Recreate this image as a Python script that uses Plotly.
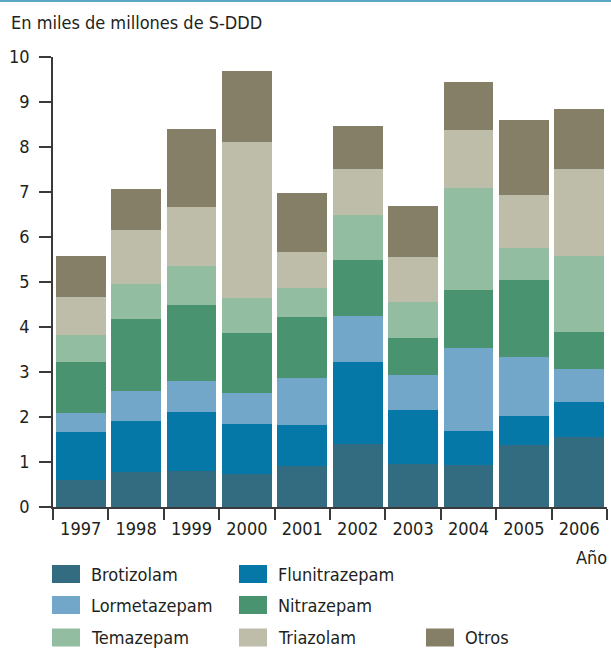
import plotly.graph_objects as go

# Consumption of hypnotic benzodiazepines, thousands of millions of S-DDD
years = ["1997", "1998", "1999", "2000", "2001", "2002", "2003", "2004", "2005", "2006"]

brotizolam    = [0.59, 0.77, 0.79, 0.73, 0.91, 1.41, 0.95, 0.93, 1.37, 1.55]
flunitrazepam = [1.07, 1.14, 1.33, 1.11, 0.91, 1.81, 1.21, 0.75, 0.65, 0.78]
lormetazepam  = [0.43, 0.66, 0.69, 0.69, 1.04, 1.02, 0.78, 1.85, 1.31, 0.73]
nitrazepam    = [1.13, 1.61, 1.67, 1.34, 1.36, 1.25, 0.82, 1.29, 1.71, 0.82]
temazepam     = [0.60, 0.78, 0.87, 0.78, 0.64, 1.00, 0.80, 2.27, 0.71, 1.69]
triazolam     = [0.85, 1.20, 1.31, 3.47, 0.80, 1.02, 1.00, 1.29, 1.18, 1.94]
otros         = [0.91, 0.91, 1.74, 1.58, 1.32, 0.96, 1.13, 1.07, 1.67, 1.34]

series_names = ["Brotizolam", "Flunitrazepam", "Lormetazepam", "Nitrazepam",
                "Temazepam", "Triazolam", "Otros"]
series_values = [brotizolam, flunitrazepam, lormetazepam, nitrazepam,
                 temazepam, triazolam, otros]
series_colors = ["#336b81", "#0578a7", "#73a7ca", "#4a9370",
                 "#93bda0", "#bebdaa", "#847f66"]

y_ticks = [0, 1, 2, 3, 4, 5, 6, 7, 8, 9, 10]

FONT = "DejaVu Sans Condensed, Liberation Sans Narrow, sans-serif"
FS = 18
TEXT = "#231f20"
AXIS = "#3a3a3a"

W, H = 611, 650
ML, MR, MT, MB = 53, 4, 57, 143
PW, PH = W - ML - MR, H - MT - MB


def px_x(px):
    return (px - ML) / PW


def px_y(py):
    return 1 - (py - MT) / PH


fig = go.Figure()
for name, vals, col in zip(series_names, series_values, series_colors):
    fig.add_trace(go.Bar(
        x=years, y=vals, name=name,
        marker=dict(color=col, line=dict(width=0)),
        showlegend=False,
    ))

# Legend drawn as swatches + labels in a 3-column grid
legend_slots = [(0, 0), (1, 0), (0, 1), (1, 1), (0, 2), (1, 2), (2, 2)]
col_swatch_x = [52, 239, 426]
row_center_y = [574, 605, 637.5]
shapes = []
annotations = []
for (c, r), name, col in zip(legend_slots, series_names, series_colors):
    sx = col_swatch_x[c]
    cy = row_center_y[r]
    shapes.append(dict(
        type="rect", xref="paper", yref="paper",
        x0=px_x(sx), x1=px_x(sx + 28), y0=px_y(cy + 9), y1=px_y(cy - 9),
        fillcolor=col, line=dict(width=0), layer="above",
    ))
    annotations.append(dict(
        text=name, xref="paper", yref="paper",
        x=px_x(sx + 37), y=px_y(cy), xanchor="left", yanchor="middle",
        showarrow=False, font=dict(family=FONT, size=FS, color=TEXT),
    ))

# Thin rule across the top
shapes.append(dict(
    type="line", xref="paper", yref="paper",
    x0=px_x(0), x1=px_x(W), y0=px_y(1), y1=px_y(1),
    line=dict(color="#5aa8c6", width=2),
))

annotations.append(dict(
    text="En miles de millones de S-DDD", xref="paper", yref="paper",
    x=px_x(9), y=px_y(23), xanchor="left", yanchor="middle",
    showarrow=False, font=dict(family=FONT, size=FS, color=TEXT),
))
annotations.append(dict(
    text="Año", xref="paper", yref="paper",
    x=px_x(609), y=px_y(557), xanchor="right", yanchor="middle",
    showarrow=False, font=dict(family=FONT, size=FS, color=TEXT),
))

fig.update_layout(
    barmode="stack",
    bargap=0.1,
    width=W, height=H,
    margin=dict(l=ML, r=MR, t=MT, b=MB, pad=0),
    paper_bgcolor="white", plot_bgcolor="white",
    font=dict(family=FONT, size=FS, color=TEXT),
    shapes=shapes,
    annotations=annotations,
    xaxis=dict(
        type="category",
        showline=True, linecolor=AXIS, linewidth=1.5,
        ticks="outside", tickson="boundaries", ticklen=11,
        tickcolor=AXIS, tickwidth=1.5, tickangle=0,
        showgrid=False, zeroline=False,
        tickfont=dict(family=FONT, size=FS, color=TEXT),
        ticklabelstandoff=5,
    ),
    yaxis=dict(
        range=[0, 10], tickvals=y_ticks,
        showline=True, linecolor=AXIS, linewidth=1.5,
        ticks="outside", ticklen=12, tickcolor=AXIS, tickwidth=1.5,
        showgrid=False, zeroline=False,
        tickfont=dict(family=FONT, size=FS, color=TEXT),
        ticklabelstandoff=6,
    ),
)

fig.write_html("out.html")
